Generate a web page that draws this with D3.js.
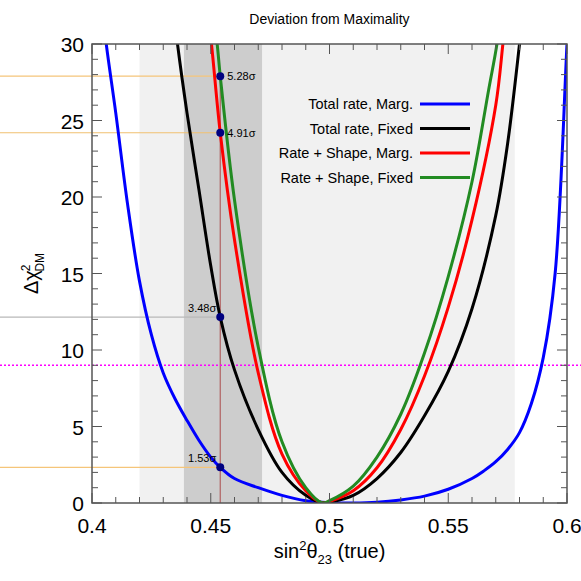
<!DOCTYPE html>
<html><head><meta charset="utf-8">
<script src="https://cdn.jsdelivr.net/npm/d3@7"></script>
<style>body{margin:0;background:#fff}text{font-family:"Liberation Sans",Arial,sans-serif}</style>
</head><body><div id="chart"></div>
<script>
const xTicks = [0.4, 0.45, 0.5, 0.55, 0.6];
const yTicks = [0, 5, 10, 15, 20, 25, 30];
const seriesNames = ['Total rate, Marg.', 'Total rate, Fixed', 'Rate + Shape, Marg.', 'Rate + Shape, Fixed'];
const seriesColors = ['#0000ff', '#000000', '#ff0000', '#228b22'];
const blue = [[0.403,34],[0.406,30],[0.41,25.5],[0.415,19.5],[0.42,14.5],[0.425,11],[0.43,8.5],[0.435,6.8],[0.44,5.4],[0.445,4.1],[0.45,3.0],[0.454,2.33],[0.46,1.6],[0.47,1.0],[0.48,0.5],[0.49,0.15],[0.5,0.02],[0.51,0],[0.52,0.05],[0.53,0.2],[0.54,0.45],[0.55,0.9],[0.56,1.6],[0.565,2.1],[0.57,2.7],[0.575,3.5],[0.58,4.6],[0.585,6.5],[0.59,9.5],[0.595,15],[0.6,30],[0.602,36]];
const black = [[0.433,34],[0.436,30],[0.44,25.5],[0.445,20.5],[0.45,15.5],[0.454,12.15],[0.46,8.7],[0.47,4.8],[0.48,2.0],[0.49,0.5],[0.497,0],[0.5,0.05],[0.51,0.5],[0.52,1.6],[0.53,3.3],[0.54,5.7],[0.55,8.6],[0.56,12.7],[0.57,18.8],[0.575,23.5],[0.58,30],[0.582,33]];
const red = [[0.448,33],[0.4503,30],[0.454,24.2],[0.46,17.2],[0.47,8.5],[0.48,3.2],[0.49,0.8],[0.497,0],[0.5,0.1],[0.51,0.8],[0.52,2.3],[0.53,4.8],[0.54,8.3],[0.55,12.8],[0.56,18.5],[0.57,26],[0.573,30],[0.575,33]];
const green = [[0.451,32],[0.4527,30],[0.454,27.9],[0.46,19.8],[0.47,10.2],[0.48,4.0],[0.49,1.0],[0.497,0],[0.5,0.15],[0.51,1.1],[0.52,3.0],[0.53,5.8],[0.54,9.8],[0.55,14.8],[0.56,21],[0.567,27],[0.5705,30],[0.572,32]];
const seriesData = [blue, black, red, green];
const markerX = 0.454;
const markers = [[27.9, '5.28σ', '#f5c57a'], [24.2, '4.91σ', '#f0c070'], [12.15, '3.48σ', '#b8b8b8'], [2.33, '1.53σ', '#f5c57a']];
const lightBand = [0.42, 0.578];
const darkBand = [0.4387, 0.4716];
const threshold = 9;

const W = 581, H = 581;
const margin = { top: 44, right: 14, bottom: 78, left: 92 };
const svg = d3.select('#chart').append('svg').attr('width', W).attr('height', H);
const x = d3.scaleLinear().domain([0.4, 0.6]).range([margin.left, W - margin.right]);
const y = d3.scaleLinear().domain([0, 30]).range([H - margin.bottom, margin.top]);

svg.append('clipPath').attr('id', 'clip').append('rect')
  .attr('x', x(0.4)).attr('y', y(30)).attr('width', x(0.6) - x(0.4)).attr('height', y(0) - y(30));

svg.append('rect').attr('x', x(lightBand[0])).attr('y', y(30)).attr('width', x(lightBand[1]) - x(lightBand[0])).attr('height', y(0) - y(30)).attr('fill', '#f1f1f1');
svg.append('rect').attr('x', x(darkBand[0])).attr('y', y(30)).attr('width', x(darkBand[1]) - x(darkBand[0])).attr('height', y(0) - y(30)).attr('fill', '#cdcdcd');

// marker guide lines
markers.forEach(([v, , c]) => {
  svg.append('line').attr('x1', 0).attr('x2', x(markerX)).attr('y1', y(v)).attr('y2', y(v)).attr('stroke', c).attr('stroke-width', 1.2);
});
svg.append('line').attr('x1', x(markerX)).attr('x2', x(markerX)).attr('y1', y(0)).attr('y2', y(markers[0][0])).attr('stroke', '#b06060').attr('stroke-width', 1.2);

svg.append('line').attr('x1', 0).attr('x2', W).attr('y1', y(threshold)).attr('y2', y(threshold))
  .attr('stroke', '#ff00ff').attr('stroke-width', 1.5).attr('stroke-dasharray', '2,2');

const line = d3.line().x((d) => x(d[0])).y((d) => y(d[1])).curve(d3.curveCatmullRom);
const g = svg.append('g').attr('clip-path', 'url(#clip)');
seriesData.forEach((d, i) => {
  g.append('path').datum(d).attr('d', line).attr('fill', 'none').attr('stroke', seriesColors[i]).attr('stroke-width', 3);
});

markers.forEach(([v, label], i) => {
  svg.append('circle').attr('cx', x(markerX)).attr('cy', y(v)).attr('r', 4).attr('fill', '#000080');
  const left = i >= 2;
  svg.append('text').attr('x', x(markerX) + (left ? -4 : 7)).attr('y', y(v) + (left ? -5 : 4))
    .attr('text-anchor', left ? 'end' : 'start').attr('font-size', 11).text(label);
});

// axes frame
const frame = svg.append('g');
frame.append('rect').attr('x', x(0.4)).attr('y', y(30)).attr('width', x(0.6) - x(0.4)).attr('height', y(0) - y(30))
  .attr('fill', 'none').attr('stroke', '#555').attr('stroke-width', 1.5);
d3.range(0.4, 0.6001, 0.01).forEach((t, i) => {
  const len = i % 5 === 0 ? 10 : 6;
  frame.append('line').attr('x1', x(t)).attr('x2', x(t)).attr('y1', y(0)).attr('y2', y(0) - len).attr('stroke', '#555');
  frame.append('line').attr('x1', x(t)).attr('x2', x(t)).attr('y1', y(30)).attr('y2', y(30) + len).attr('stroke', '#555');
});
d3.range(0, 30.01, 1).forEach((t) => {
  const len = t % 5 === 0 ? 10 : 6;
  frame.append('line').attr('x1', x(0.4)).attr('x2', x(0.4) + len).attr('y1', y(t)).attr('y2', y(t)).attr('stroke', '#555');
  frame.append('line').attr('x1', x(0.6)).attr('x2', x(0.6) - len).attr('y1', y(t)).attr('y2', y(t)).attr('stroke', '#555');
});
xTicks.forEach((t) => {
  svg.append('text').attr('x', x(t)).attr('y', y(0) + 30).attr('text-anchor', 'middle').attr('font-size', 21).text(t);
});
yTicks.forEach((t) => {
  svg.append('text').attr('x', x(0.4) - 8).attr('y', y(t) + 8).attr('text-anchor', 'end').attr('font-size', 21).text(t);
});

svg.append('text').attr('x', (x(0.4) + x(0.6)) / 2).attr('y', 24).attr('text-anchor', 'middle').attr('font-size', 14).text('Deviation from Maximality');

const xl = svg.append('text').attr('x', (x(0.4) + x(0.6)) / 2).attr('y', 558).attr('text-anchor', 'middle').attr('font-size', 20);
xl.append('tspan').text('sin');
xl.append('tspan').attr('dy', -8).attr('font-size', 13).text('2');
xl.append('tspan').attr('dy', 8).text('θ');
xl.append('tspan').attr('dy', 6).attr('font-size', 13).text('23');
xl.append('tspan').attr('dy', -6).text(' (true)');

const yl = svg.append('text').attr('transform', `translate(38,${(y(0) + y(30)) / 2}) rotate(-90)`).attr('text-anchor', 'middle').attr('font-size', 20);
yl.append('tspan').text('Δχ');
yl.append('tspan').attr('dy', -8).attr('dx', -1).attr('font-size', 12).text('2');
yl.append('tspan').attr('dy', 14).attr('dx', -7).attr('font-size', 12).text('DM');

seriesNames.forEach((n, i) => {
  const ly = 104 + i * 24.5;
  svg.append('text').attr('x', 413).attr('y', ly + 5).attr('text-anchor', 'end').attr('font-size', 14.5).text(n);
  svg.append('line').attr('x1', 420).attr('x2', 470).attr('y1', ly).attr('y2', ly).attr('stroke', seriesColors[i]).attr('stroke-width', 3);
});
</script></body></html>
